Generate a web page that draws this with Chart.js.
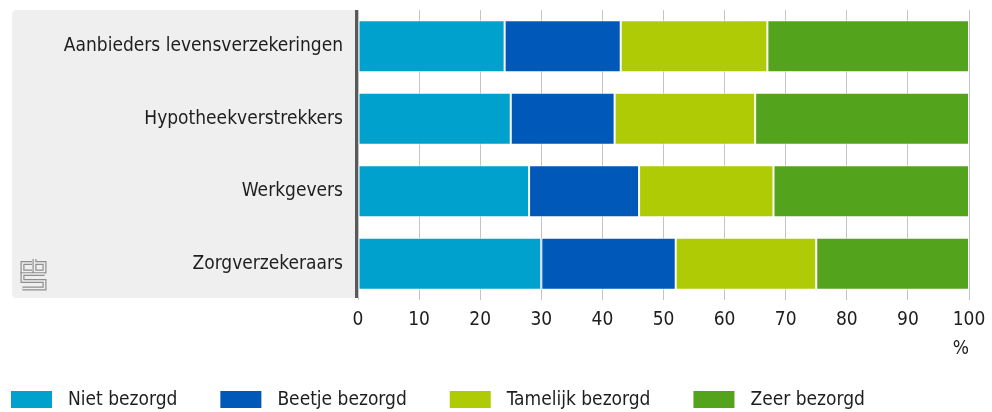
<!DOCTYPE html>
<html><head><meta charset="utf-8">
<script src="https://cdn.jsdelivr.net/npm/chart.js@4/dist/chart.umd.min.js"></script>
<style>html,body{margin:0;padding:0;background:#fff}#wrap{width:992px;height:412px;position:relative}</style>
</head><body><div id="wrap"><canvas id="c" width="992" height="412"></canvas></div>
<script>
const categories = ["Aanbieders levensverzekeringen","Hypotheekverstrekkers","Werkgevers","Zorgverzekeraars"];
const seriesNames = ["Niet bezorgd","Beetje bezorgd","Tamelijk bezorgd","Zeer bezorgd"];
const nietBezorgd = [24, 25, 28, 30];
const beetjeBezorgd = [19, 17, 18, 22];
const tamelijkBezorgd = [24, 23, 22, 23];
const zeerBezorgd = [33, 35, 32, 25];
const xTicks = [0,10,20,30,40,50,60,70,80,90,100];
const colors = ["#00a1cd","#0058b8","#afcb05","#53a31d"];

const FONT = "'DejaVu Sans Condensed','Liberation Sans Narrow',sans-serif";
const FS = 19;
const TXT = "#1e1e1e";

const values = [nietBezorgd, beetjeBezorgd, tamelijkBezorgd, zeerBezorgd];

const panelPlugin = {
  id: 'panel',
  beforeDraw(chart) {
    const ctx = chart.ctx, a = chart.chartArea;
    ctx.save();
    ctx.fillStyle = '#efefef';
    const x0 = 12, y0 = a.top, x1 = a.left, y1 = a.bottom - 2, r = 5;
    ctx.beginPath();
    ctx.moveTo(x0 + r, y0); ctx.lineTo(x1, y0); ctx.lineTo(x1, y1);
    ctx.lineTo(x0 + r, y1); ctx.quadraticCurveTo(x0, y1, x0, y1 - r);
    ctx.lineTo(x0, y0 + r); ctx.quadraticCurveTo(x0, y0, x0 + r, y0);
    ctx.fill();
    // CBS logo
    const paths = [
      [[32,263],[22.5,263],[22.5,271.5],[32,271.5]],
      [[34.5,259],[34.5,271.5],[44.5,271.5],[44.5,263],[34.5,263]],
      [[44.5,274],[22.5,274],[22.5,281],[44.5,281],[44.5,288.5],[22.5,288.5]]
    ];
    ctx.lineJoin = 'miter';
    [['#8e8e8e',4],['#efefef',1.6]].forEach(([c,w]) => {
      ctx.strokeStyle = c; ctx.lineWidth = w;
      paths.forEach(p => { ctx.beginPath(); p.forEach((pt,i)=> i?ctx.lineTo(pt[0],pt[1]):ctx.moveTo(pt[0],pt[1])); ctx.stroke(); });
    });
    ctx.restore();
  },
  afterDraw(chart) {
    const ctx = chart.ctx, a = chart.chartArea;
    ctx.save();
    ctx.fillStyle = '#5a5a5a';
    ctx.fillRect(a.left - 3, a.top, 3, a.bottom - 2 - a.top);
    // legend
    ctx.font = FS + "px " + FONT;
    ctx.textBaseline = 'middle';
    let x = 11;
    chart.data.datasets.forEach((ds, i) => {
      ctx.fillStyle = ds.backgroundColor;
      ctx.fillRect(x, 391, 41, 17);
      ctx.fillStyle = TXT;
      ctx.fillText(ds.label, x + 57, 400);
      x += 57 + ctx.measureText(ds.label).width + 43;
    });
    ctx.restore();
  }
};

new Chart(document.getElementById('c'), {
  type: 'bar',
  data: {
    labels: categories,
    datasets: seriesNames.map((n, i) => ({
      label: n, data: values[i], backgroundColor: colors[i],
      borderColor: 'rgba(255,255,255,0.75)', borderWidth: 1, borderSkipped: false,
      barPercentage: 0.717, categoryPercentage: 1
    }))
  },
  options: {
    indexAxis: 'y', responsive: false, animation: false,
    layout: { padding: { left: 12, right: 23, top: 10, bottom: 52 } },
    plugins: { legend: { display: false }, tooltip: { enabled: false } },
    scales: {
      x: {
        stacked: true, min: 0, max: 100,
        afterBuildTicks: s => { s.ticks = xTicks.map(v => ({ value: v })); },
        afterFit: s => { s.height = 60; s.paddingLeft = 0; s.paddingRight = 0; },
        grid: { color: '#c4c4c4', lineWidth: 1, drawTicks: false },
        border: { display: false },
        ticks: { padding: 9, color: TXT, font: { family: FONT, size: FS } },
        title: { display: true, text: '%', align: 'end', color: TXT, font: { family: FONT, size: FS }, padding: 0 }
      },
      y: {
        stacked: true,
        afterFit: s => { s.width = 346; s.paddingTop = 0; s.paddingBottom = 0; },
        grid: { display: false, drawTicks: false },
        border: { display: false },
        ticks: { padding: 15, color: TXT, font: { family: FONT, size: FS } }
      }
    }
  },
  plugins: [panelPlugin]
});
</script></body></html>
